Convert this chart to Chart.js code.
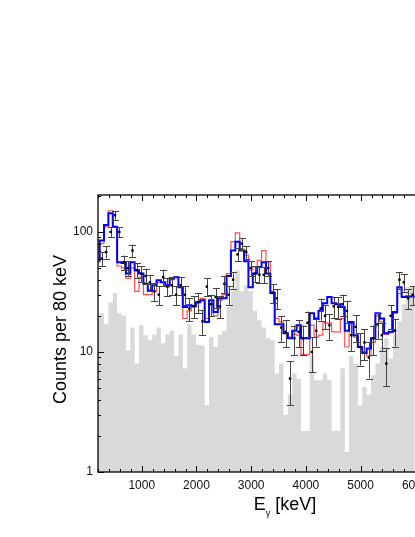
<!DOCTYPE html>
<html>
<head>
<meta charset="utf-8">
<script src="https://cdn.jsdelivr.net/npm/chart.js@4.4.1/dist/chart.umd.min.js"></script>
<style>
html, body { margin: 0; padding: 0; background: #fff; overflow: hidden; }
#wrap { position: absolute; left: 0; top: 0; width: 490px; height: 537px; }
</style>
</head>
<body>
<div id="wrap"><canvas id="myChart" width="490" height="537"></canvas></div>
<script>
// spectrum binned in 80 keV, first entry is the partial bin at the left edge
var binStart = 150;
var binWidth = 80;

// grey background histogram
var bgCounts = [20, 20, 21, 17, 26, 31, 21, 20, 10.3, 16, 8, 16.7, 13.8, 12.5, 14, 16, 11.8, 14, 15, 9.3, 14,
    7.3, 17, 14, 11.5, 11.3, 3.6, 13.3, 11, 14, 15, 23.7, 32.5, 48, 32, 36, 32, 22, 18.4, 16, 13, 12.5,
    6.6, 8, 3.0, 4.4, 6.6, 6.0, 2.2, 2.2, 9.3, 5.8, 5.8, 6.6, 5.8, 2.2, 2.2, 7.3, 1.47, 9.3, 8, 3.6, 5.1,
    4.4, 6.4, 8, 11, 13, 8.8, 14, 18, 25, 35];

// red fit
var redFit = [30, 56, 80, 110, 150, 112, 52, 50, 41, 50, 32, 42, 30, 30, 32, 38, 38, 35, 40, 42, 35,
    19, 22, 24, 26, 28, 19, 25, 20, 27, 30, 45, 83, 98, 72, 64, 48, 51, 58, 70, 56, 32,
    19, 17.8, 14.3, 13.3, 14, 13.8, 9.5, 9.5, 16.7, 13.3, 13.8, 17.5, 17.5, 14.7, 14.7, 19, 11, 17.8, 13.3, 11,
    10, 9.3, 12, 20, 17.8, 14, 14.5, 21, 30.7, 29, 29];

// blue fit
var blueFit = [30, 58, 85, 114, 143, 110, 56, 55, 45, 56, 48, 45, 37, 32.5, 36, 39.5, 38, 36, 41, 42, 34.6,
    23.7, 24.5, 24, 26, 27, 17.8, 27, 21.5, 28, 28, 43, 70, 83, 70, 57, 34.6, 45, 51, 56, 45, 31,
    17, 17, 14.3, 13, 15, 16.7, 13, 13, 21, 19, 22, 25.4, 28.7, 25.4, 25, 23.7, 15, 17.8, 13.8, 11,
    9.8, 10.7, 13, 21, 19, 14.3, 14.7, 21.5, 34.6, 28.7, 29];

// measured points (one per full bin) and their errors
var measured = [60, 68, 100, 138, 100, 56, 50, 70, 48, 45, 43, 38, 32, 30, 42, 35, 36, 30, 36, 30,
    23, 24, 26, 18, 35, 25, 28.7, 24, 37, 30, 40, 65, 80, 68, 50, 45, 44, 44, 50, 31,
    28, 16, 14.7, 6, 13, 14.7, 13, 17.5, 10, 15, 23, 20, 16.7, 24, 23.7, 25, 22, 13.8, 16.2, 11,
    12, 9, 13, 17, 13.8, 8, 20, 15, 40, 38, 28, 30];
var errors = [8, 8, 10, 12, 10, 7.5, 7, 8.5, 7, 7, 6.5, 6, 5.5, 5.5, 6.5, 6, 6, 5.5, 6, 5.5,
    5, 5, 5, 4.2, 6, 5, 5.4, 5, 6, 5.5, 6.3, 8, 9, 8.2, 7, 6.7, 6.6, 6.6, 7, 5.6,
    5.3, 4, 3.8, 2.4, 3.6, 3.8, 3.6, 4.2, 3.2, 3.9, 4.8, 4.5, 4.1, 4.9, 4.9, 5, 4.7, 3.7, 4, 3.3,
    3.5, 3, 3.6, 4.1, 3.7, 2.8, 4.5, 3.9, 6.3, 6.2, 5.3, 5.5];

var xTicks = [1000, 2000, 3000, 4000, 5000, 6000, 7000];
var yTicks = [1, 10, 100];

// histogram points: left edges, plus closing point
function histPoints(arr) {
    var pts = [];
    for (var i = 0; i < arr.length; i++) {
        pts.push({x: binStart + i * binWidth, y: arr[i]});
    }
    pts.push({x: binStart + arr.length * binWidth, y: arr[arr.length - 1]});
    return pts;
}

var dataPts = [];
for (var j = 0; j < measured.length; j++) {
    dataPts.push({x: binStart + (j + 1) * binWidth + binWidth / 2, y: measured[j]});
}

var fontFam = '"Liberation Sans", Arial, sans-serif';

var errorBars = {
    id: 'errorBars',
    beforeDatasetDraw: function(chart, args) {
        if (args.index !== 3) return;
        var c = chart.ctx, xs = chart.scales.x, ys = chart.scales.y, a = chart.chartArea;
        c.save();
        c.beginPath();
        c.rect(a.left, a.top, a.right - a.left, a.bottom - a.top);
        c.clip();
        c.strokeStyle = '#444';
        c.lineWidth = 1;
        for (var i = 0; i < dataPts.length; i++) {
            var px = Math.round(xs.getPixelForValue(dataPts[i].x)) + 0.5;
            var lo = Math.max(measured[i] - errors[i], 1);
            var y1 = ys.getPixelForValue(measured[i] + errors[i]);
            var y2 = ys.getPixelForValue(lo);
            c.beginPath();
            c.moveTo(px, y1); c.lineTo(px, y2);
            c.moveTo(px - 3.5, Math.round(y1) + 0.5); c.lineTo(px + 3.5, Math.round(y1) + 0.5);
            c.moveTo(px - 3.5, Math.round(y2) + 0.5); c.lineTo(px + 3.5, Math.round(y2) + 0.5);
            c.stroke();
        }
        c.restore();
    }
};

var frame = {
    id: 'frame',
    afterDraw: function(chart) {
        var c = chart.ctx, xs = chart.scales.x, ys = chart.scales.y, a = chart.chartArea;
        c.save();
        c.strokeStyle = '#000';
        c.lineWidth = 1.3;
        c.strokeRect(a.left, a.top, a.right - a.left, a.bottom - a.top);
        c.lineWidth = 1;
        c.beginPath();
        // x ticks, inside, bottom and top
        for (var v = 200; v <= 7000; v += 200) {
            var px = Math.round(xs.getPixelForValue(v)) + 0.5;
            var len = (v % 1000 === 0) ? 6 : 3;
            c.moveTo(px, a.bottom); c.lineTo(px, a.bottom - len);
            c.moveTo(px, a.top); c.lineTo(px, a.top + len);
        }
        // y ticks, log minor
        for (var d = 1; d <= 100; d *= 10) {
            for (var m = 1; m <= 9; m++) {
                var val = d * m;
                if (val > ys.max) break;
                var py = Math.round(ys.getPixelForValue(val)) + 0.5;
                var l2 = (m === 1) ? 6 : 3;
                c.moveTo(a.left, py); c.lineTo(a.left + l2, py);
                c.moveTo(a.right, py); c.lineTo(a.right - l2, py);
            }
        }
        c.stroke();

        // axis titles
        c.fillStyle = '#000';
        c.font = '18px ' + fontFam;
        c.textAlign = 'center';
        c.textBaseline = 'middle';
        c.save();
        c.translate(61, (a.top + a.bottom) / 2 - 4);
        c.rotate(-Math.PI / 2);
        c.fillText('Counts per 80 keV', 0, 0);
        c.restore();

        c.textAlign = 'left';
        c.textBaseline = 'alphabetic';
        c.font = '18px ' + fontFam;
        var wE = c.measureText('E').width;
        var rest = ' [keV]';
        var wR = c.measureText(rest).width;
        c.font = '9px ' + fontFam;
        var wG = c.measureText('\u03b3').width;
        var x0 = 285 - (wE + wG + wR) / 2;
        c.font = '18px ' + fontFam;
        c.fillText('E', x0, 510);
        c.font = '9px ' + fontFam;
        c.fillText('\u03b3', x0 + wE, 516);
        c.font = '18px ' + fontFam;
        c.fillText(rest, x0 + wE + wG, 510);
        c.restore();
    }
};

window.onload = function() {
    var ctx = document.getElementById('myChart').getContext('2d');
    var myChart = new Chart(ctx, {
        type: 'line',
        data: {
            datasets: [{
                label: 'background',
                data: histPoints(bgCounts),
                stepped: 'after',
                fill: 'start',
                backgroundColor: '#d9d9d9',
                borderWidth: 0,
                borderColor: 'rgba(0,0,0,0)',
                pointRadius: 0,
                order: 4
            }, {
                label: 'fit 2',
                data: histPoints(redFit),
                stepped: 'after',
                fill: false,
                borderColor: 'rgba(255, 50, 50, 0.85)',
                borderWidth: 1.2,
                pointRadius: 0,
                order: 3
            }, {
                label: 'fit 1',
                data: histPoints(blueFit),
                stepped: 'after',
                fill: false,
                borderColor: '#0000ff',
                borderWidth: 2,
                pointRadius: 0,
                order: 2
            }, {
                label: 'data',
                data: dataPts,
                showLine: false,
                pointStyle: 'rect',
                pointRadius: 1.7,
                pointBackgroundColor: '#000',
                pointBorderWidth: 0,
                order: 1
            }]
        },
        options: {
            responsive: false,
            animation: false,
            layout: { padding: { left: 0, top: 195, right: 20, bottom: 0 } },
            plugins: { legend: { display: false }, tooltip: { enabled: false } },
            scales: {
                x: {
                    type: 'linear',
                    min: 200,
                    max: 7000,
                    grid: { display: false, drawTicks: false },
                    border: { display: false },
                    afterBuildTicks: function(s) { s.ticks = xTicks.map(function(v) { return {value: v}; }); },
                    afterFit: function(s) { s.height = 65; },
                    ticks: {
                        autoSkip: false,
                        maxRotation: 0,
                        padding: 6,
                        color: '#111',
                        font: { family: fontFam, size: 12 },
                        callback: function(v) { return String(v); }
                    }
                },
                y: {
                    type: 'logarithmic',
                    min: 1,
                    max: 203,
                    grid: { display: false, drawTicks: false },
                    border: { display: false },
                    afterBuildTicks: function(s) { s.ticks = yTicks.map(function(v) { return {value: v}; }); },
                    afterFit: function(s) { s.width = 98; },
                    ticks: {
                        autoSkip: false,
                        padding: 5,
                        color: '#111',
                        font: { family: fontFam, size: 12 },
                        callback: function(v) { return String(v); }
                    }
                }
            }
        },
        plugins: [errorBars, frame]
    });
};
</script>
</body>
</html>
